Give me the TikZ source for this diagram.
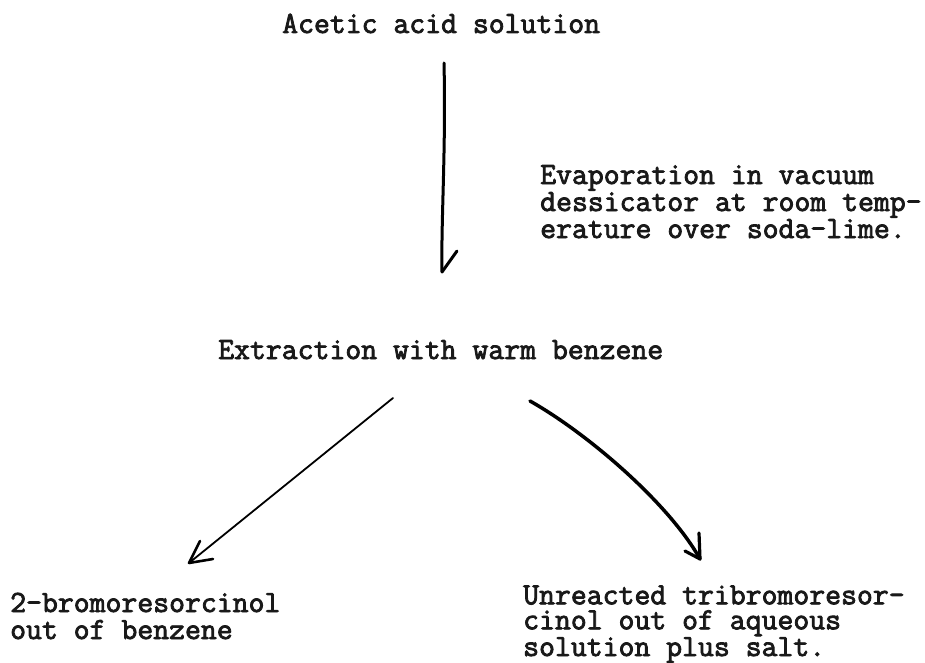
\documentclass[tikz,border=0pt]{standalone}
\usepackage{fontspec}
\newfontfamily\twfont{Latin Modern Mono}[FakeBold=2.6]
\begin{document}
\begin{tikzpicture}[x=1pt,y=-1pt,
  tw/.style={inner sep=0pt,anchor=base west,align=left,text=black!90,
    font=\fontsize{30.86}{27}\selectfont\twfont},
  pen/.style={draw=black,line cap=round,line join=round}]
\useasboundingbox[fill=white] (0,0) rectangle (925,663);
% (base anchor of a multi-line node = baseline of its last line)
\node[tw] (acid) at (282,33) {Acetic acid solution};
\node[tw] (evap) at (540,238) {Evaporation in vacuum\\dessicator at room temp-\\erature over soda-lime.};
\node[tw] (extr) at (218,359) {Extraction with warm benzene};
\node[tw] (bromo) at (10,639) {2-bromoresorcinol\\out of benzene};
\node[tw,font=\fontsize{30.86}{25}\selectfont\twfont] (tribromo) at (523,656) {Unreacted tribromoresor-\\cinol out of aqueous\\solution plus salt.};
% arrow ends
\coordinate (vs) at (444,63);
\coordinate (vt) at (442,272);
\coordinate (ls) at (393,398);
\coordinate (lt) at (189,563);
\coordinate (rs) at (530,401);
\coordinate (rt) at (700,559);
% vertical arrow
\draw[pen,line width=3pt] (vs) .. controls (446,150) and (441,220) .. (vt);
\draw[pen,line width=3pt] (vt) -- ([shift={(15,-21)}]vt);
% left arrow
\draw[pen,line width=1.8pt] (ls) -- (lt);
\draw[pen,line width=2.6pt] ([shift={(11,-22)}]lt) -- (lt) -- ([shift={(24,-4)}]lt);
% right arrow
\draw[pen,line width=3.5pt] (rs) .. controls (590,435) and (670,505) .. (rt);
\draw[pen,line width=3.2pt] ([shift={(-1,-26)}]rt) -- (rt) -- ([shift={(-15,-8)}]rt);
\end{tikzpicture}
\end{document}
